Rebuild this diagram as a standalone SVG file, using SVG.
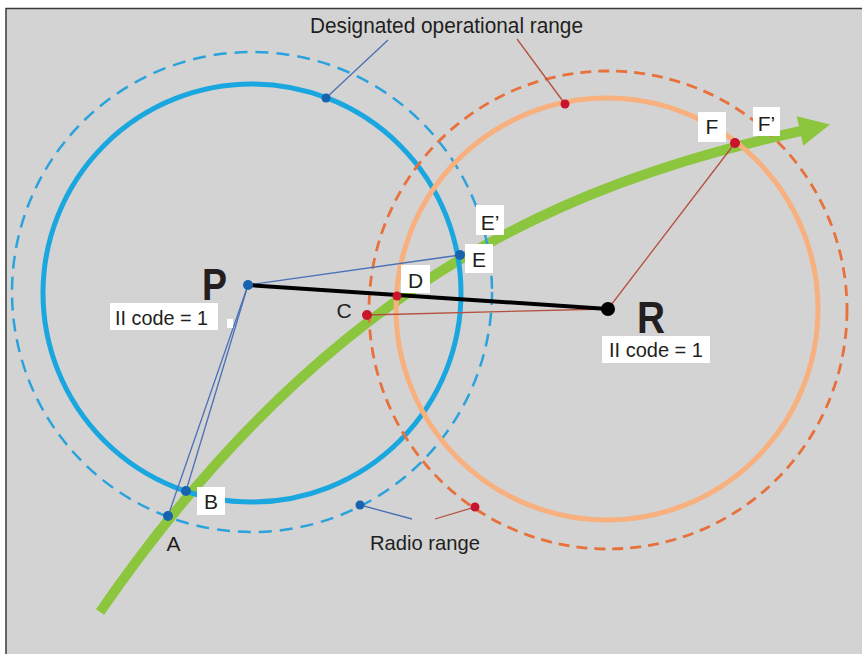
<svg xmlns="http://www.w3.org/2000/svg" width="862" height="654" viewBox="0 0 862 654">
<style>
.t{font-family:"Liberation Sans Narrow","Liberation Sans",Arial,sans-serif;fill:#231f20}
.big{font-family:"Liberation Sans",Arial,sans-serif;font-weight:bold;fill:#231f20}
.box{fill:#ffffff}
.bline{stroke:#4a70b6;stroke-width:1.3;fill:none}
.rline{stroke:#b4503f;stroke-width:1.3;fill:none}
.bdot{fill:#1763ad}
.rdot{fill:#c8142c}
</style>
<rect x="0" y="0" width="862" height="654" fill="#ffffff"/>
<rect x="6" y="8.5" width="870" height="660" fill="#d3d3d3" stroke="#3a3a3a" stroke-width="1.5"/>

<g id="trajectory">
<path d="M100,612 C320,293 550,186 801,131" fill="none" stroke="#8cc63f" stroke-width="10"/>
<polygon points="830,124.5 796.8,116.3 803.2,145.7" fill="#8cc63f"/>
</g>

<g id="ranges">
<circle id="P-radio" cx="252" cy="292" r="240" fill="none" stroke="#2aa3dc" stroke-width="2.5" stroke-dasharray="13 8"/>
<circle id="P-operational" cx="252" cy="293" r="209" fill="none" stroke="#1aa7e0" stroke-width="5"/>
<circle id="R-radio" cx="608" cy="310" r="239" fill="none" stroke="#e8703a" stroke-width="2.8" stroke-dasharray="11 7"/>
<circle id="R-operational" cx="607" cy="309" r="211" fill="none" stroke="#f7b07e" stroke-width="5"/>
</g>

<g id="connectors">
<line class="bline" x1="248" y1="285" x2="460" y2="255"/>
<line class="bline" x1="248" y1="285" x2="186" y2="491"/>
<line class="bline" x1="248" y1="285" x2="168" y2="516"/>
<line class="rline" x1="367" y1="315" x2="606" y2="309"/>
<line class="rline" x1="608" y1="309" x2="735" y2="143"/>
<line class="bline" x1="326" y1="98" x2="388" y2="40"/>
<line class="rline" x1="565" y1="104" x2="517" y2="39"/>
<line class="bline" x1="360" y1="505" x2="412" y2="519"/>
<line class="rline" x1="475" y1="507" x2="435" y2="519"/>
<line x1="248" y1="285" x2="608" y2="309" stroke="#000" stroke-width="4"/>
</g>

<g id="labels">
<text class="t" x="310" y="33" font-size="22" textLength="273" lengthAdjust="spacingAndGlyphs">Designated operational range</text>
<circle class="bdot" cx="326" cy="98" r="4.5"/>
<circle class="rdot" cx="565" cy="104" r="4.5"/>
<text class="t" x="370" y="550" font-size="21" textLength="110" lengthAdjust="spacingAndGlyphs">Radio range</text>
<circle class="bdot" cx="360" cy="505" r="4.5"/>
<circle class="rdot" cx="475" cy="507" r="4.5"/>
</g>

<g id="P">
<circle class="bdot" cx="248" cy="285" r="5"/>
<text class="big" x="202" y="300" font-size="44" textLength="25" lengthAdjust="spacingAndGlyphs">P</text>
<rect class="box" x="110" y="303" width="108" height="27"/>
<text class="t" x="115" y="325" font-size="21" textLength="93" lengthAdjust="spacingAndGlyphs">II code = 1</text>
<rect class="box" x="227" y="319" width="6" height="9"/>
</g>

<g id="R">
<circle cx="608" cy="309" r="7" fill="#000"/>
<text class="big" x="637" y="333" font-size="45" textLength="28" lengthAdjust="spacingAndGlyphs">R</text>
<rect class="box" x="602" y="336" width="108" height="27"/>
<text class="t" x="609" y="357" font-size="21" textLength="94" lengthAdjust="spacingAndGlyphs">II code = 1</text>
</g>

<g id="A">
<circle class="bdot" cx="168" cy="516" r="5"/>
<text class="t" x="173.5" y="551" font-size="21" text-anchor="middle">A</text>
</g>
<g id="B">
<circle class="bdot" cx="186" cy="491" r="5"/>
<rect class="box" x="197" y="487" width="28" height="28"/>
<text class="t" x="211" y="509" font-size="21" text-anchor="middle">B</text>
</g>
<g id="C">
<circle class="rdot" cx="367" cy="315" r="5"/>
<text class="t" x="344" y="318" font-size="21" text-anchor="middle">C</text>
</g>
<g id="D">
<circle class="rdot" cx="397" cy="296" r="4.5"/>
<rect class="box" x="401" y="265" width="29" height="28"/>
<text class="t" x="415.5" y="288" font-size="21" text-anchor="middle">D</text>
</g>
<g id="E">
<circle class="bdot" cx="460" cy="255" r="5"/>
<rect class="box" x="465" y="244" width="28" height="29"/>
<text class="t" x="479" y="267" font-size="21" text-anchor="middle">E</text>
</g>
<g id="E-prime">
<rect class="box" x="476" y="205" width="28" height="30"/>
<text class="t" x="490" y="230" font-size="21" text-anchor="middle">E’</text>
</g>
<g id="F">
<circle class="rdot" cx="735" cy="143" r="5"/>
<rect class="box" x="698" y="112" width="28" height="30"/>
<text class="t" x="712" y="134" font-size="21" text-anchor="middle">F</text>
</g>
<g id="F-prime">
<rect class="box" x="753" y="107" width="27" height="29"/>
<text class="t" x="766.5" y="131" font-size="21" text-anchor="middle">F’</text>
</g>
</svg>
